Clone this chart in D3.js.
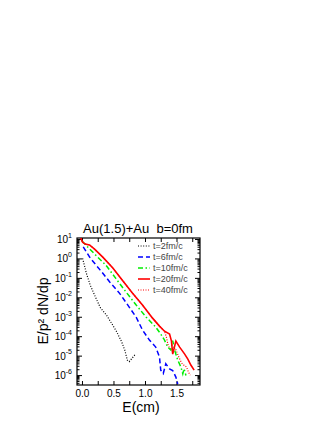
<!DOCTYPE html>
<html>
<head>
<meta charset="utf-8">
<script src="https://cdn.jsdelivr.net/npm/d3@7"></script>
<style>
  body { margin: 0; background: #fff; }
  text { font-family: "Liberation Sans", Arial, Helvetica, sans-serif; }
</style>
</head>
<body>
<div id="chart"></div>
<script>
// spectra, E in cm, value = E/p^2 dN/dp
var E_t2 = [0.01, 0.07, 0.13, 0.21, 0.29, 0.39, 0.47, 0.55, 0.63, 0.68, 0.72, 0.75, 0.84];
var v_t2 = [1.0, 1.7e-1, 4.3e-2, 1.1e-2, 3.0e-3, 1.2e-3, 4.6e-4, 1.7e-4, 5.1e-5, 1.9e-5, 5.9e-6, 4.9e-6, 1.1e-5];

var E_t6 = [0.02, 0.13, 0.29, 0.44, 0.60, 0.71, 0.86, 0.96, 1.07, 1.17, 1.23, 1.25, 1.29, 1.33, 1.39, 1.44, 1.49, 1.52];
var v_t6 = [3.9, 1.05, 0.25, 6.2e-2, 1.55e-2, 4.8e-3, 9.5e-4, 2.1e-4, 6.3e-5, 2.75e-5, 8.5e-6, 1.8e-6, 1.2e-6, 3.8e-6, 2.1e-6, 1.7e-6, 7.9e-7, 3.5e-7];

var E_t10 = [0.0, 0.06, 0.22, 0.38, 0.54, 0.70, 0.86, 1.02, 1.17, 1.25, 1.31, 1.36, 1.41, 1.44, 1.47, 1.52, 1.57, 1.60, 1.62, 1.65];
var v_t10 = [7.9, 4.9, 1.45, 0.45, 9.1e-2, 1.86e-2, 4.0e-3, 9.5e-4, 2.95e-4, 1.29e-4, 6.3e-5, 2.75e-5, 1.95e-5, 5.9e-5, 1.95e-5, 5.9e-6, 2.6e-6, 1.17e-6, 2.1e-6, 9.5e-7];

var E_t20 = [-0.02, 0.01, 0.05, 0.12, 0.20, 0.33, 0.49, 0.65, 0.80, 0.96, 1.12, 1.23, 1.31, 1.39, 1.42, 1.44, 1.49, 1.55, 1.63, 1.68, 1.73, 1.78];
var v_t20 = [11, 6.9, 5.5, 4.9, 3.0, 1.17, 0.32, 6.9e-2, 1.66e-2, 4.0e-3, 8.5e-4, 3.3e-4, 1.8e-4, 1.29e-4, 5.6e-5, 1.2e-5, 5.6e-5, 2.75e-5, 1.2e-5, 6.6e-6, 3.2e-6, 1.8e-6];

var E_t40 = [-0.02, 0.01, 0.05, 0.12, 0.20, 0.33, 0.49, 0.65, 0.80, 0.96, 1.12, 1.23, 1.31, 1.34, 1.37, 1.42, 1.48, 1.53, 1.58, 1.62, 1.66, 1.69, 1.72];
var v_t40 = [11, 6.9, 5.5, 4.9, 3.0, 1.17, 0.32, 6.9e-2, 1.66e-2, 4.0e-3, 8.5e-4, 3.3e-4, 1.8e-4, 8.9e-5, 3.1e-5, 1.95e-5, 2.45e-5, 9.5e-6, 4.2e-6, 3.2e-6, 2.6e-6, 1.4e-6, 1.0e-6];

var legendLabels = ["t=2fm/c", "t=6fm/c", "t=10fm/c", "t=20fm/c", "t=40fm/c"];
var xTickLabels = [0, 0.5, 1.0, 1.5];
var yDecades = [1, 0, -1, -2, -3, -4, -5, -6];

// svg size and plot box
var svgWidth = 332;
var svgHeight = 430;
var margin = { top: 238, left: 77, right: 132, bottom: 45 };
var width = svgWidth - margin.left - margin.right;
var height = svgHeight - margin.top - margin.bottom;

var svg = d3.select("#chart")
  .append("svg")
  .attr("width", svgWidth)
  .attr("height", svgHeight);

var chart = svg.append("g")
  .attr("transform", `translate(${margin.left}, ${margin.top})`);

// scales
var x = d3.scaleLinear().domain([-0.079, 1.873]).range([0, width]);
var y = d3.scaleLog().domain([Math.pow(10, -6.51), Math.pow(10, 1.05)]).range([height, 0]);

// clip so lines stay in the box
svg.append("defs").append("clipPath").attr("id", "clip")
  .append("rect").attr("width", width).attr("height", height);

// x axes, ticks point inside
var xTickVals = d3.range(0, 1.8, 0.25);
var bottomAxis = d3.axisBottom(x)
  .tickValues(xTickVals)
  .tickSizeInner(-4)
  .tickSizeOuter(0)
  .tickPadding(5)
  .tickFormat(d => xTickLabels.indexOf(d) >= 0 ? d3.format(".1f")(d) : "");

chart.append("g")
  .attr("transform", `translate(0, ${height})`)
  .call(bottomAxis)
  .call(g => g.select(".domain").remove())
  .call(g => g.selectAll("text").attr("font-size", "10px").attr("fill", "#000").style("font-family", "'Liberation Sans', Arial, sans-serif"));

chart.append("g")
  .call(d3.axisTop(x).tickValues(xTickVals).tickSizeInner(-4).tickSizeOuter(0).tickFormat(""))
  .call(g => g.select(".domain").remove());

// y ticks: decades plus 2..9 minors
var yTickVals = [];
for (var n = -7; n <= 1; n++) {
  for (var k = 1; k <= 9; k++) {
    var v = k * Math.pow(10, n);
    if (v >= y.domain()[0] && v <= y.domain()[1]) yTickVals.push(v);
  }
}
function isMajor(v) {
  var l = Math.log10(v);
  return Math.abs(l - Math.round(l)) < 1e-6;
}

var leftAxis = d3.axisLeft(y)
  .tickValues(yTickVals)
  .tickSizeInner(-5)
  .tickSizeOuter(0)
  .tickPadding(5)
  .tickFormat("");

var gLeft = chart.append("g").call(leftAxis);
gLeft.select(".domain").remove();
gLeft.selectAll(".tick line").attr("x2", d => isMajor(d) ? 5 : 2.5);
gLeft.selectAll(".tick text")
  .filter(d => isMajor(d))
  .attr("font-size", "10px")
  .attr("fill", "#000")
  .attr("dy", "0.35em")
  .each(function(d) {
    var t = d3.select(this);
    t.text("10");
    t.append("tspan")
      .attr("font-size", "7px")
      .attr("dy", "-0.75em")
      .text(Math.round(Math.log10(d)));
  });

var gRight = chart.append("g")
  .attr("transform", `translate(${width}, 0)`)
  .call(d3.axisRight(y).tickValues(yTickVals).tickSizeInner(-5).tickSizeOuter(0).tickFormat(""));
gRight.select(".domain").remove();
gRight.selectAll(".tick line").attr("x2", d => isMajor(d) ? -5 : -2.5);

// frame
chart.append("rect")
  .attr("width", width)
  .attr("height", height)
  .attr("fill", "none")
  .attr("stroke", "#000")
  .attr("stroke-width", 1.2);

// the curves
var series = [
  { E: E_t2, v: v_t2, color: "#000000", dash: "1,1.6", w: 1.2 },
  { E: E_t6, v: v_t6, color: "#0000ff", dash: "5,3", w: 1.5 },
  { E: E_t10, v: v_t10, color: "#00ee00", dash: "5,2.5,1.5,2.5", w: 1.5 },
  { E: E_t20, v: v_t20, color: "#ff0000", dash: null, w: 1.6 },
  { E: E_t40, v: v_t40, color: "#ff0000", dash: "1,1.5", w: 1.2 }
];

var line = d3.line()
  .x(d => x(d[0]))
  .y(d => y(d[1]));

var plot = chart.append("g").attr("clip-path", "url(#clip)");

// draw solid red after the others so it sits on top like the picture
[4, 0, 1, 2, 3].forEach(function(i) {
  var s = series[i];
  plot.append("path")
    .datum(d3.zip(s.E, s.v))
    .attr("d", line)
    .attr("fill", "none")
    .attr("stroke", s.color)
    .attr("stroke-width", s.w)
    .attr("stroke-dasharray", s.dash);
});

// legend
var legend = chart.append("g").attr("transform", "translate(61, 8)");
series.forEach(function(s, i) {
  legend.append("line")
    .attr("x1", 0).attr("x2", 12)
    .attr("y1", i * 11).attr("y2", i * 11)
    .attr("stroke", s.color)
    .attr("stroke-width", s.w)
    .attr("stroke-dasharray", s.dash);
  legend.append("text")
    .attr("x", 15)
    .attr("y", i * 11)
    .attr("dy", "0.35em")
    .attr("font-size", "9px")
    .attr("fill", "#444")
    .text(legendLabels[i]);
});

// title and axis labels
svg.append("text")
  .attr("x", 138)
  .attr("y", 233)
  .attr("text-anchor", "middle")
  .attr("font-size", "13px")
  .style("white-space", "pre")
  .text("Au(1.5)+Au  b=0fm");

svg.append("text")
  .attr("x", 141)
  .attr("y", 412)
  .attr("text-anchor", "middle")
  .attr("font-size", "14px")
  .text("E(cm)");

svg.append("text")
  .attr("transform", "translate(48, 311) rotate(-90)")
  .attr("text-anchor", "middle")
  .attr("font-size", "14px")
  .text("E/p² dN/dp");
</script>
</body>
</html>
